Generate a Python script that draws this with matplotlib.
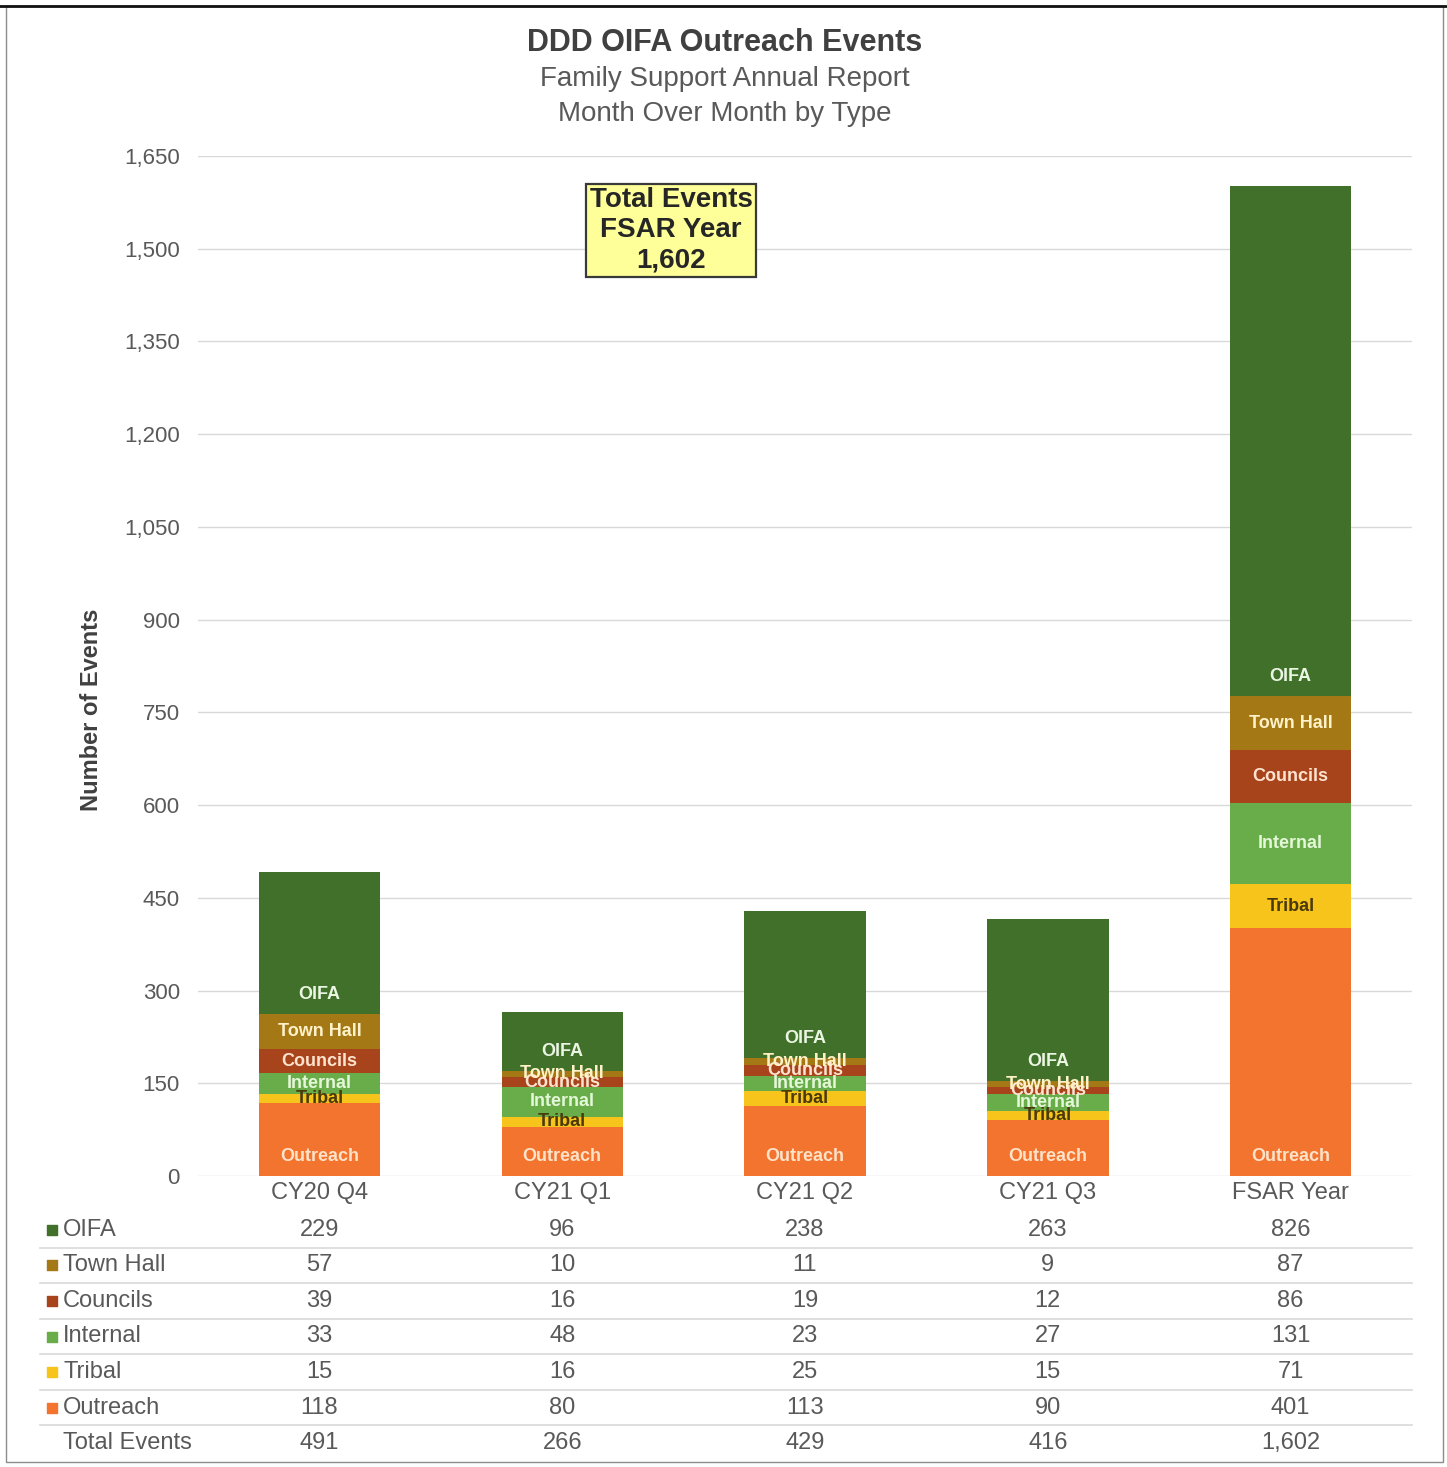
"""DDD OIFA Outreach Events: stacked bars with a data table underneath."""

import matplotlib
matplotlib.use("Agg")
import matplotlib.pyplot as plt
from matplotlib.patches import Rectangle
from matplotlib.lines import Line2D
from matplotlib.ticker import FuncFormatter, MultipleLocator

plt.rcParams["font.family"] = ["Liberation Sans", "DejaVu Sans"]

CATEGORIES = ["CY20 Q4", "CY21 Q1", "CY21 Q2", "CY21 Q3", "FSAR Year"]
OUTREACH = [118, 80, 113, 90, 401]
TRIBAL = [15, 16, 25, 15, 71]
INTERNAL = [33, 48, 23, 27, 131]
COUNCILS = [39, 16, 19, 12, 86]
TOWN_HALL = [57, 10, 11, 9, 87]
OIFA = [229, 96, 238, 263, 826]
TOTALS = [491, 266, 429, 416, 1602]

# stacking order bottom -> top
SERIES = [
    ("Outreach", OUTREACH, "#f2742e", "#ffe2c8", "base"),
    ("Tribal", TRIBAL, "#f7c41c", "#4a3a0a", "center"),
    ("Internal", INTERNAL, "#69ad4b", "#e4f7d8", "center"),
    ("Councils", COUNCILS, "#a8441c", "#ffe3cf", "center"),
    ("Town Hall", TOWN_HALL, "#a47815", "#fff1c8", "center"),
    ("OIFA", OIFA, "#40702a", "#eaf5e2", "base"),
]

W, H = 1447, 1467
fig = plt.figure(figsize=(W / 100, H / 100), dpi=100)
fig.patch.set_facecolor("white")


def fx(px):
    return px / W


def fy(py):
    return 1 - py / H


# outer frame
fig.patches.append(Rectangle((fx(6), fy(1462)), fx(1443) - fx(6), fy(6) - fy(1462),
                             transform=fig.transFigure, fill=False,
                             edgecolor="#8c8c8c", lw=1.0))
fig.lines.append(Line2D([fx(0), fx(1447)], [fy(6), fy(6)], transform=fig.transFigure,
                        color="#111111", lw=2.0))

ax = fig.add_axes([fx(198), fy(1176), fx(1412) - fx(198), fy(156) - fy(1176)])
ax.set_xlim(-0.5, 4.5)
ax.set_ylim(0, 1650)
ax.yaxis.set_major_locator(MultipleLocator(150))
ax.yaxis.set_major_formatter(FuncFormatter(lambda v, p: f"{int(v):,}"))
ax.grid(axis="y", color="#d9d9d9", lw=1.0)
ax.set_axisbelow(True)
for s in ax.spines.values():
    s.set_visible(False)
ax.tick_params(axis="y", length=0, pad=13, labelsize=16, labelcolor="#595959")
ax.tick_params(axis="x", length=0, pad=4, labelsize=17, labelcolor="#595959")
x = list(range(len(CATEGORIES)))
ax.set_xticks(x)
ax.set_xticklabels(CATEGORIES)

bottom = [0] * len(CATEGORIES)
for name, vals, color, tcolor, pos in SERIES:
    ax.bar(x, vals, width=0.5, bottom=bottom, color=color, edgecolor="none")
    for i, v in enumerate(vals):
        if pos == "base":
            ax.annotate(name, (i, bottom[i]), xytext=(0, 14), textcoords="offset points",
                        ha="center", va="center", fontsize=13, fontweight="bold",
                        color=tcolor)
        else:
            ax.text(i, bottom[i] + v / 2, name, ha="center", va="center",
                    fontsize=13, fontweight="bold", color=tcolor)
    bottom = [b + v for b, v in zip(bottom, vals)]

ax.text(1.448, 1530, f"Total Events\nFSAR Year\n{TOTALS[-1]:,}", ha="center", va="center",
        fontsize=20, fontweight="bold", color="#262626", linespacing=1.2,
        bbox=dict(boxstyle="square,pad=0.12", facecolor="#ffff99",
                  edgecolor="#3a3a3a", lw=1.6))

fig.text(fx(725), fy(43), "DDD OIFA Outreach Events", ha="center", va="center",
         fontsize=22, fontweight="bold", color="#404040")
fig.text(fx(725), fy(79), "Family Support Annual Report", ha="center", va="center",
         fontsize=20, color="#595959")
fig.text(fx(725), fy(114), "Month Over Month by Type", ha="center", va="center",
         fontsize=20, color="#595959")
fig.text(fx(92), fy(710), "Number of Events", rotation=90, ha="center", va="center",
         fontsize=17, fontweight="bold", color="#404040")

# data table below the bars
tab = fig.add_axes([fx(198), fy(1461), fx(1412) - fx(198), fy(1212) - fy(1461)])
tab.set_xlim(-0.5, 4.5)
tab.set_ylim(7, 0)
tab.axis("off")

rows = list(reversed(SERIES))
for r, (name, vals, color, _, _) in enumerate(rows):
    yc = r + 0.5
    tab.scatter([-1.10], [yc], marker="s", s=45, color=color, clip_on=False)
    tab.text(-1.055, yc, name, ha="left", va="center", fontsize=17,
             color="#595959", clip_on=False)
    for i, v in enumerate(vals):
        tab.text(i, yc, f"{v:,}", ha="center", va="center", fontsize=17, color="#595959")
tab.text(-1.055, 6.5, "Total Events", ha="left", va="center", fontsize=17,
         color="#595959", clip_on=False)
for i, v in enumerate(TOTALS):
    tab.text(i, 6.5, f"{v:,}", ha="center", va="center", fontsize=17, color="#595959")
for r in range(1, 7):
    tab.plot([-1.15, 4.5], [r, r], color="#d9d9d9", lw=1.2, clip_on=False)

fig.savefig("out.png", dpi=100)
